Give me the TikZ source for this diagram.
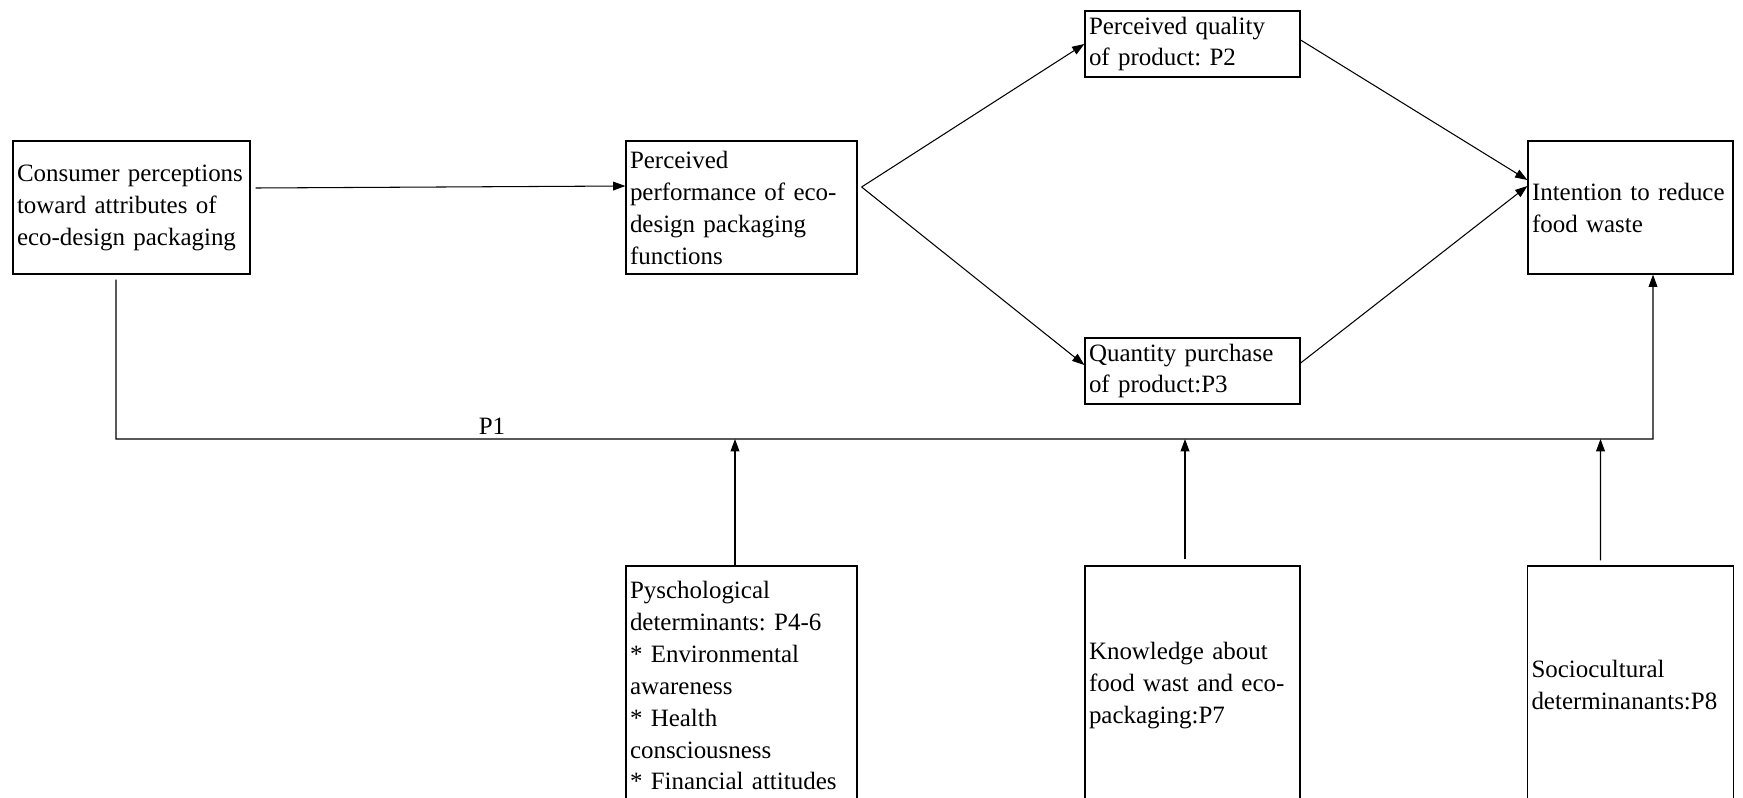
\documentclass[tikz,border=0pt]{standalone}
\usepackage{fontspec}
\setmainfont{Liberation Serif}
\usetikzlibrary{positioning,arrows.meta}

\begin{document}
\frenchspacing
\begin{tikzpicture}[
    >={Triangle[length=7pt,width=5pt]},
    every node/.style={font=\fontsize{14.2}{18.2}\selectfont},
    box/.style={draw, line width=.7pt, align=left, inner xsep=.08cm, inner ysep=0pt},
  ]
    \useasboundingbox (0,0) rectangle (34.86,-15.96);

    \node[box, text width=4.58cm, minimum height=2.66cm] (cons) at (2.63,-4.15) {Consumer perceptions\\toward attributes of\\eco-design packaging};
    \node[box, right of=cons, text width=4.46cm, minimum height=2.66cm, node distance=12.2cm] (perf) {Perceived\\performance of eco-\\design packaging\\functions};
    \node[box, right of=perf, text width=3.94cm, minimum height=2.66cm, node distance=17.78cm] (intent) {Intention to reduce\\food waste};

    \node[box, text width=4.14cm, minimum height=1.32cm] (qual) at (23.85,-0.88) {Perceived quality\\of product: P2};
    \node[box, below of=qual, text width=4.14cm, minimum height=1.32cm, node distance=6.54cm] (quant) {Quantity purchase\\of product:P3};

    \node[box, below of=perf, text width=4.46cm, minimum height=4.78cm, node distance=9.56cm] (psy) {Pyschological\\determinants: P4-6\\{*} Environmental\\awareness\\{*} Health\\consciousness\\{*} Financial attitudes};
    \node[box, below of=quant, text width=4.14cm, minimum height=4.78cm, node distance=6.29cm] (know) {Knowledge about\\food wast and eco-\\packaging:P7};
    \node[box, below of=intent, text width=3.96cm, minimum height=4.78cm, node distance=9.56cm] (socio) {Sociocultural\\determinanants:P8};

    \draw[->, semithick] ([shift={(.1,.39)}]cons.east) -- ([yshift=.43cm]perf.west);
    \draw[->, semithick] ([shift={(.08,.41)}]perf.east) -- (qual.west);
    \draw[->, semithick] ([shift={(.08,.41)}]perf.east) -- ([yshift=.12cm]quant.west);
    \draw[->, semithick] ([yshift=.08cm]qual.east) -- ([yshift=.55cm]intent.west);
    \draw[->, semithick] ([yshift=.16cm]quant.east) -- ([yshift=.43cm]intent.west);

    \coordinate (lineL) at (2.32,-8.78);
    \coordinate (lineR) at (33.06,-8.78);
    \draw[->, semithick] ([shift={(-.31,-.1)}]cons.south) -- (lineL) -- (lineR) -- (lineR |- intent.south);
    \node (p1) at (9.84,-8.52) {P1};

    \draw[->, semithick] ([xshift=-.13cm]psy.north) -- ([xshift=-.13cm]psy.north |- lineL);
    \draw[->, semithick] ([shift={(-.15,.12)}]know.north) -- ([xshift=-.15cm]know.north |- lineL);
    \draw[->, semithick] ([shift={(-.6,.1)}]socio.north) -- ([xshift=-.6cm]socio.north |- lineL);
\end{tikzpicture}
\end{document}
